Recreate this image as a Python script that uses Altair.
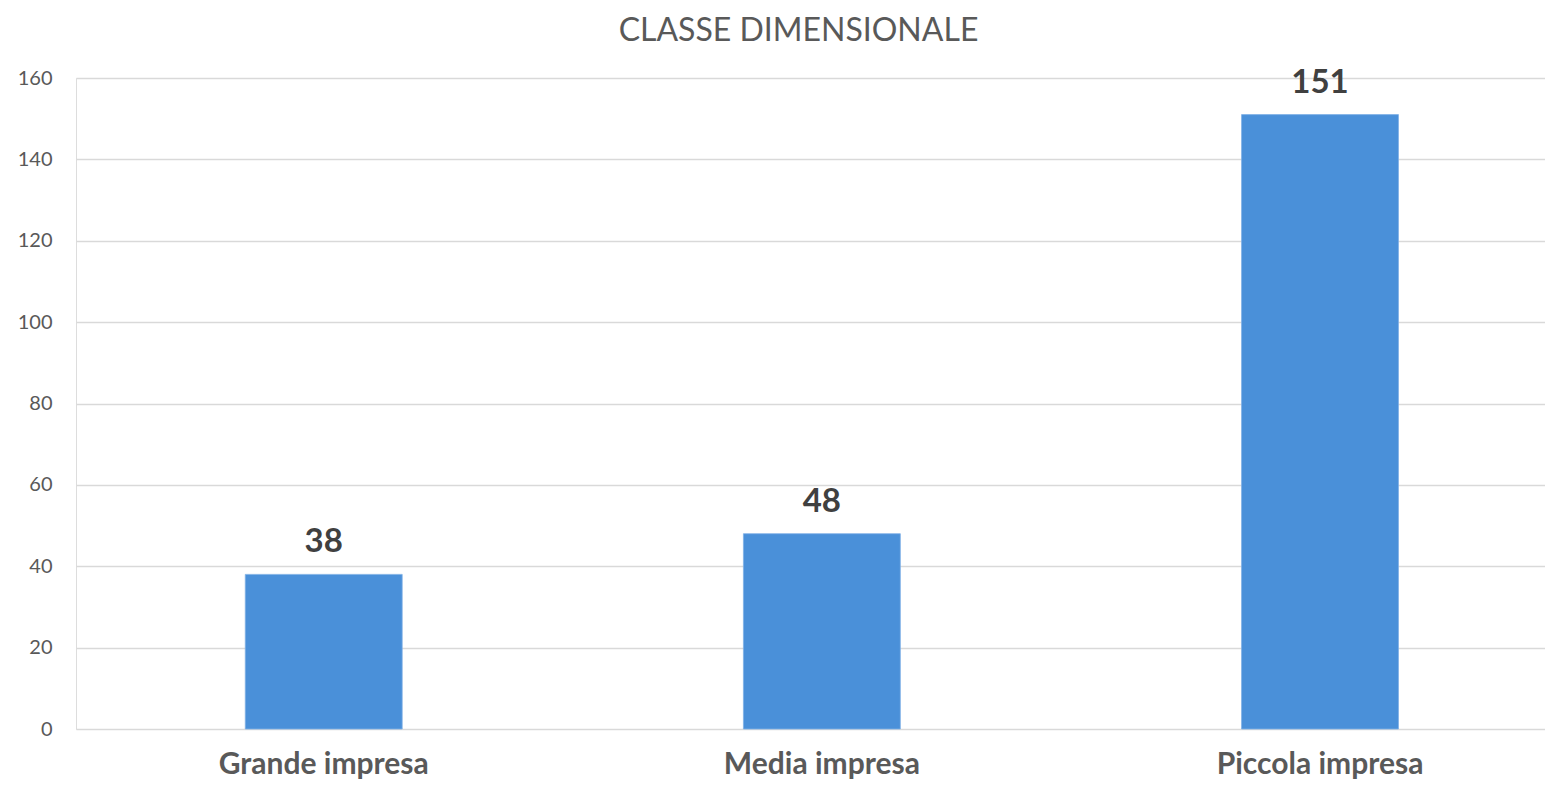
import altair as alt
import pandas as pd

categories = ["Grande impresa", "Media impresa", "Piccola impresa"]
values = [38, 48, 151]

df = pd.DataFrame({"cat": categories, "val": values})

FONT = "Lato"

x = alt.X("cat:N", sort=categories, title=None,
          scale=alt.Scale(paddingInner=0.685, paddingOuter=0.317, align=0.536),
          axis=alt.Axis(labelAngle=0, labelFont=FONT, labelFontSize=30, labelFontWeight="bold",
                        labelColor="#595959", ticks=False, domain=False, labelPadding=20,
                        labelLimit=0))
y = alt.Y("val:Q", title=None,
          scale=alt.Scale(domain=[0, 160], nice=False),
          axis=alt.Axis(values=list(range(0, 161, 20)), labelFont=FONT, labelFontSize=20,
                        labelColor="#595959", ticks=False, domain=False, labelPadding=24,
                        gridColor="#D9D9D9", gridWidth=1.5))

base = alt.Chart(df).encode(x=x, y=y)
bars = base.mark_bar(color="#4A90D9", stroke="#7FB0E6", strokeWidth=0.8)
labels = base.mark_text(baseline="bottom", dy=-15, font=FONT, fontSize=33, fontWeight="bold",
                        color="#404040").encode(text="val:Q")

chart = (bars + labels).properties(
    width=1469, height=651,
    autosize=alt.AutoSizeParams(type="none"),
    padding={"left": 68, "top": 70, "right": 0, "bottom": 53},
    title=alt.TitleParams("CLASSE DIMENSIONALE", font=FONT, fontSize=32, fontWeight="normal",
                          color="#595959", anchor="middle", dx=-12, offset=19),
).configure_view(stroke=None).configure(background="white")

chart.save("out.html", embed_options={"renderer": "svg", "actions": False})
